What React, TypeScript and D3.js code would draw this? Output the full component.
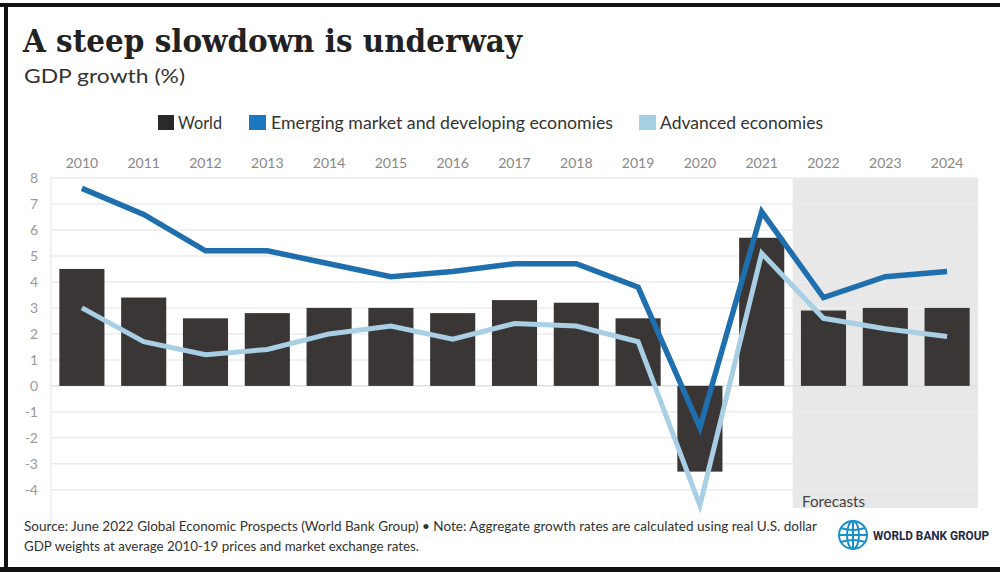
import React from "react";
import * as d3 from "d3";

const years = ["2010","2011","2012","2013","2014","2015","2016","2017","2018","2019","2020","2021","2022","2023","2024"];
const world = [4.5, 3.4, 2.6, 2.8, 3.0, 3.0, 2.8, 3.3, 3.2, 2.6, -3.3, 5.7, 2.9, 3.0, 3.0];
const emde = [7.6, 6.6, 5.2, 5.2, 4.7, 4.2, 4.4, 4.7, 4.7, 3.8, -1.6, 6.7, 3.4, 4.2, 4.4];
const advanced = [3.0, 1.7, 1.2, 1.4, 2.0, 2.3, 1.8, 2.4, 2.3, 1.7, -4.6, 5.1, 2.6, 2.2, 1.9];
const yTicks = [8, 7, 6, 5, 4, 3, 2, 1, 0, -1, -2, -3, -4];
const forecastYears = ["2022", "2023", "2024"];

const W = 1000, H = 572;
const plotL = 51, plotR = 978, plotT = 178, plotB = 508;

export default function App() {
  const x = d3.scaleBand<string>().domain(years).range([plotL, plotR]).paddingInner(0.27).paddingOuter(0.135);
  const y = d3.scaleLinear().domain([-4.7, 8]).range([plotB, plotT]);
  const cx = (i: number) => (x(years[i]) as number) + x.bandwidth() / 2;
  const line = d3.line<number>().x((_, i) => cx(i)).y((d) => y(d));
  const step = x.step();
  const fx0 = (x(forecastYears[0]) as number) - x.paddingInner() * step / 2;

  const sans = "'Source Sans Pro', Lato, 'Open Sans', sans-serif";
  return (
    <div style={{ position: "absolute", left: 0, top: 0, width: W, height: H }}>
      <svg width={W} height={H} style={{ display: "block", background: "#fff" }}>
        {/* frame */}
        <line x1={0} x2={W} y1={5} y2={5} stroke="#111" strokeWidth={4} />
        <line x1={6} x2={6} y1={3} y2={H} stroke="#111" strokeWidth={4} />
        <line x1={0} x2={W} y1={569.5} y2={569.5} stroke="#111" strokeWidth={5} />

        {/* title */}
        <text x={23} y={52} fontFamily="'DejaVu Serif', serif" fontWeight="bold" fontSize={31} fill="#222" textLength={499} lengthAdjust="spacingAndGlyphs">A steep slowdown is underway</text>
        <text x={24} y={83} fontFamily={sans} fontSize={20} fill="#333" textLength={161} lengthAdjust="spacingAndGlyphs">GDP growth (%)</text>

        {/* legend */}
        <rect x={158} y={115} width={16} height={15} fill="#2a2a2a" />
        <text x={178} y={129} fontFamily={sans} fontSize={17} fill="#333" textLength={44} lengthAdjust="spacingAndGlyphs">World</text>
        <rect x={249} y={115} width={17} height={15} fill="#1b78c0" />
        <text x={271} y={129} fontFamily={sans} fontSize={17} fill="#333" textLength={342} lengthAdjust="spacingAndGlyphs">Emerging market and developing economies</text>
        <rect x={639} y={115} width={17} height={15} fill="#a6d0e4" />
        <text x={660} y={129} fontFamily={sans} fontSize={17} fill="#333" textLength={163} lengthAdjust="spacingAndGlyphs">Advanced economies</text>

        {/* forecast shading */}
        <rect x={fx0} y={plotT} width={plotR - fx0} height={plotB - plotT} fill="#e8e8e8" />

        {/* gridlines */}
        {yTicks.map((t) => (
          <line key={t} x1={plotL} x2={plotR} y1={y(t)} y2={y(t)} stroke={t === 0 ? "#e0e0e0" : "#ececec"} strokeWidth={1.5} />
        ))}
        <line x1={plotL} x2={plotL} y1={plotT} y2={plotB + 22} stroke="#ededed" strokeWidth={1.5} />

        {/* y tick labels */}
        {yTicks.map((t) => (
          <text key={t} x={38} y={y(t) + 5} textAnchor="end" fontFamily={sans} fontSize={14} fill="#999">{t}</text>
        ))}

        {/* x labels */}
        {years.map((yr) => (
          <text key={yr} x={(x(yr) as number) + x.bandwidth() / 2} y={168} textAnchor="middle" fontFamily={sans} fontSize={14} fill="#888">{yr}</text>
        ))}

        {/* bars */}
        {world.map((v, i) => (
          <rect key={i} x={x(years[i]) as number} width={x.bandwidth()} y={y(Math.max(0, v))} height={Math.abs(y(v) - y(0))} fill="#3a3636" />
        ))}

        {/* lines */}
        <path d={line(advanced) as string} fill="none" stroke="#a8cfe4" strokeWidth={5} strokeLinejoin="miter" />
        <path d={line(emde) as string} fill="none" stroke="#1f6fae" strokeWidth={5.5} strokeLinejoin="miter" />

        <text x={802} y={507} fontFamily={sans} fontSize={15} fill="#444" textLength={63} lengthAdjust="spacingAndGlyphs">Forecasts</text>

        {/* source */}
        <text x={24} y={531} fontFamily={sans} fontSize={13.5} fill="#333" textLength={793} lengthAdjust="spacingAndGlyphs">Source: June 2022 Global Economic Prospects (World Bank Group) • Note: Aggregate growth rates are calculated using real U.S. dollar</text>
        <text x={24} y={551} fontFamily={sans} fontSize={13.5} fill="#333" textLength={395} lengthAdjust="spacingAndGlyphs">GDP weights at average 2010-19 prices and market exchange rates.</text>

        {/* logo */}
        <g transform="translate(853,535)" fill="none" stroke="#1a8fc9" strokeWidth={2}>
          <circle r={14} />
          <ellipse rx={6} ry={14} />
          <line x1={-14} x2={14} y1={0} y2={0} />
          <path d="M-12,-7 Q0,-3 12,-7" />
          <path d="M-12,7 Q0,3 12,7" />
          <line x1={0} x2={0} y1={-14} y2={14} />
        </g>
        <text x={873} y={540} fontFamily="'Liberation Sans Narrow', Roboto, sans-serif" fontWeight="bold" fontSize={13} fill="#1d2b4a" textLength={116} lengthAdjust="spacingAndGlyphs">WORLD BANK GROUP</text>
      </svg>
    </div>
  );
}
